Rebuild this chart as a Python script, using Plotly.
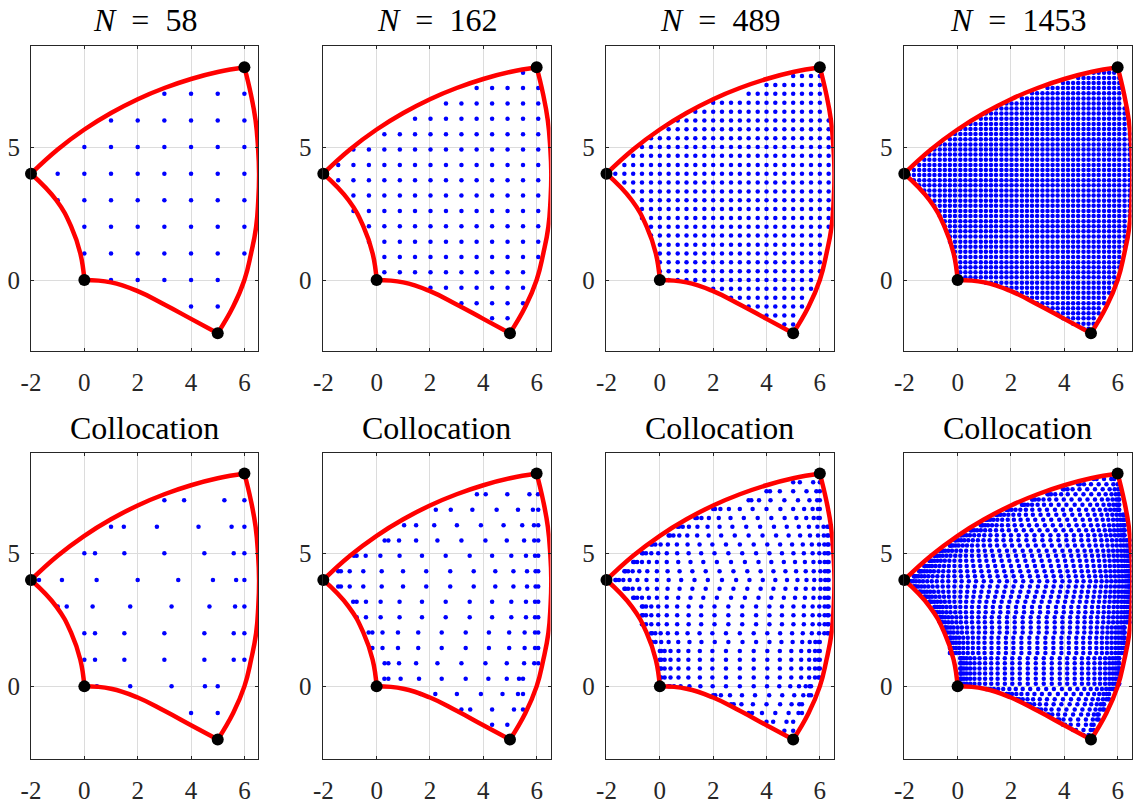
import plotly.graph_objects as go

# %% region outline and corners
corner_x = [0, 5, 6, -2]
corner_y = [0, -2, 8, 4]
edge_bottom_x = [0, 1, 2, 3, 4, 5]
edge_bottom_y = [0, -0.09, -0.42, -0.92, -1.46, -2]
edge_right_x = [5, 5.58, 6.0, 6.25, 6.44, 6.52, 6.55, 6.51, 6.42, 6.24, 6]
edge_right_y = [-2, -1, 0, 1, 2, 3, 4, 5, 6, 7, 8]
edge_top_x = [-2, -1, 0, 1, 2, 3, 4, 5, 6]
edge_top_y = [4, 4.91, 5.66, 6.28, 6.8, 7.22, 7.56, 7.82, 8]
edge_left_x = [-2, -1.05, -0.49, -0.15, 0]
edge_left_y = [4, 3, 2, 1, 0]

titles_top = ["<i>N</i>\u2002=\u200258", "<i>N</i>\u2002=\u2002162", "<i>N</i>\u2002=\u2002489", "<i>N</i>\u2002=\u20021453"]
title_bottom = "Collocation"
x_ticks = [-2, 0, 2, 4, 6]
x_tick_text = ["-2", "0", "2", "4", "6"]
y_ticks = [0, 5]
y_tick_text = ["0", "5"]

# %% top row: lattice columns, then rows with the first and last column used
grid_58 = [-1, 0, 1, 2, 3, 4, 5, 6]
rows_58 = [7, 6, 5, 4, 3, 2, 1, 0, -1]
first_58 = [3, 1, 0, -1, -1, 0, 0, 1, 4]
last_58 = [6, 6, 6, 6, 6, 6, 6, 5, 5]

grid_162 = [-1.44, -0.87, -0.29, 0.29, 0.87, 1.44, 2.02, 2.6, 3.18, 3.75, 4.33, 4.91, 5.49, 6.06]
rows_162 = [7.79, 7.22, 6.64, 6.06, 5.48, 4.91, 4.33, 3.75, 3.18, 2.6, 2.02, 1.44, 0.87, 0.29, -0.29, -0.87, -1.44]
first_162 = [5.49, 3.75, 2.6, 1.44, 0.29, -0.87, -1.44, -1.44, -0.87, -0.87, -0.29, -0.29, 0.29, 0.29, 2.02, 3.18, 4.33]
last_162 = [5.49, 6.06, 6.06, 6.06, 6.06, 6.06, 6.06, 6.06, 6.06, 6.06, 6.06, 6.06, 6.06, 5.49, 5.49, 5.49, 4.91]

grid_489 = [-1.67, -1.33, -1, -0.67, -0.33, 0, 0.33, 0.67, 1, 1.33, 1.67, 2, 2.33, 2.67, 3, 3.33, 3.67, 4, 4.33, 4.67, 5, 5.33, 5.67, 6, 6.33]
rows_489 = [7.67, 7.33, 7, 6.67, 6.33, 6, 5.67, 5.33, 5, 4.67, 4.33, 4, 3.67, 3.33, 3, 2.67, 2.33, 2, 1.67, 1.33, 1, 0.67, 0.33, 0, -0.33, -0.67, -1, -1.33, -1.67]
first_489 = [5, 4, 3.33, 2, 1.33, 0.67, 0.33, -0.33, -0.67, -1, -1.33, -1.67, -1.33, -1, -0.67, -0.67, -0.67, -0.33, -0.33, 0, 0, 0, 0, 0.33, 2, 2.67, 3.33, 4, 4.67]
last_489 = [6, 6, 6, 6, 6, 6.33, 6.33, 6.33, 6.33, 6.33, 6.33, 6.33, 6.33, 6.33, 6.33, 6.33, 6.33, 6.33, 6, 6, 6, 6, 6, 5.67, 5.67, 5.33, 5.33, 5, 5]

grid_1453 = [-1.83, -1.64, -1.44, -1.25, -1.06, -0.87, -0.67, -0.48, -0.29, -0.1, 0.1, 0.29, 0.48, 0.67, 0.87, 1.06, 1.25, 1.44, 1.64, 1.83, 2.02, 2.21, 2.41, 2.6, 2.79, 2.98, 3.18, 3.37, 3.56, 3.75, 3.95, 4.14, 4.33, 4.52, 4.72, 4.91, 5.1, 5.29, 5.49, 5.68, 5.87, 6.06, 6.26, 6.45]
rows_1453 = [-1.83, -1.64, -1.44, -1.25, -1.06, -0.87, -0.67, -0.48, -0.29, -0.1, 0.1, 0.29, 0.48, 0.67, 0.87, 1.06, 1.25, 1.44, 1.64, 1.83, 2.02, 2.21, 2.41, 2.6, 2.79, 2.98, 3.18, 3.37, 3.56, 3.75, 3.95, 4.14, 4.33, 4.52, 4.72, 4.91, 5.1, 5.29, 5.49, 5.68, 5.87, 6.06, 6.26, 6.45, 6.64, 6.83, 7.02, 7.22, 7.41, 7.6, 7.79]
first_1453 = [4.72, 4.33, 3.95, 3.75, 3.37, 2.98, 2.6, 2.21, 1.83, 1.06, 0.1, 0.1, 0.1, 0.1, -0.1, -0.1, -0.1, -0.29, -0.29, -0.29, -0.48, -0.48, -0.67, -0.67, -0.87, -0.87, -1.06, -1.25, -1.44, -1.64, -1.83, -1.64, -1.44, -1.25, -1.06, -0.87, -0.67, -0.29, -0.1, 0.1, 0.48, 0.87, 1.06, 1.44, 1.83, 2.41, 2.79, 3.37, 3.95, 4.52, 5.1]
last_1453 = [5.1, 5.1, 5.1, 5.29, 5.29, 5.49, 5.49, 5.68, 5.68, 5.87, 5.87, 5.87, 6.06, 6.06, 6.06, 6.06, 6.26, 6.26, 6.26, 6.26, 6.26, 6.26, 6.45, 6.45, 6.45, 6.45, 6.45, 6.45, 6.45, 6.45, 6.45, 6.45, 6.45, 6.45, 6.45, 6.45, 6.45, 6.45, 6.45, 6.26, 6.26, 6.26, 6.26, 6.26, 6.06, 6.06, 6.06, 6.06, 6.06, 6.06, 5.87]

# %% bottom row: rows that share the same x positions are kept together
coll_y_58 = [[7], [6], [5, 2, 1], [4], [3], [0], [-1]]
coll_x_58 = [
    [3.0, 3.74, 5.25, 6],
    [1, 1.48, 2.72, 4.28, 5.52, 6],
    [0, 0.4, 1.5, 3, 4.5, 5.6, 6],
    [-1.7, -0.84, 0.46, 2, 3.52, 4.82, 5.69, 6],
    [-1, -0.66, 0.31, 1.72, 3.27, 4.69, 5.65, 6],
    [0.47, 1.72, 3.27, 4.52, 5],
    [4, 5],
]

coll_y_162 = [[7.22], [6.64], [6.06], [5.48, 0.87], [4.91], [4.33, 3.75], [3.18], [2.6], [2.02], [1.44], [0.29], [-0.29], [-0.87], [-1.44]]
coll_x_162 = [
    [3.76, 4.09, 4.9, 5.73, 6.05],
    [2.22, 2.78, 3.59, 4.5, 5.3, 5.86, 6.06],
    [1.03, 1.48, 2.16, 3.01, 3.91, 4.76, 5.46, 5.9, 6.06],
    [0.3, 0.44, 0.84, 1.48, 2.28, 3.18, 4.08, 4.88, 5.53, 5.91, 6.06],
    [-0.85, -0.75, -0.41, 0.14, 0.86, 1.7, 2.59, 3.49, 4.33, 5.05, 5.6, 5.94, 6.06],
    [-1.44, -1.34, -1.01, -0.5, 0.19, 0.99, 1.86, 2.76, 3.64, 4.45, 5.13, 5.64, 5.96, 6.06],
    [-0.88, -0.75, -0.4, 0.15, 0.86, 1.7, 2.59, 3.49, 4.33, 5.05, 5.6, 5.94, 6.06],
    [-0.75, -0.4, 0.15, 0.86, 1.7, 2.59, 3.49, 4.33, 5.05, 5.6, 5.94, 6.06],
    [-0.3, -0.16, 0.22, 0.8, 1.56, 2.44, 3.34, 4.21, 4.97, 5.55, 5.94, 6.06],
    [-0.16, 0.22, 0.8, 1.56, 2.44, 3.34, 4.21, 4.97, 5.55, 5.94, 6.06],
    [0.29, 0.44, 0.9, 1.59, 2.44, 3.34, 4.19, 4.88, 5.34, 5.49],
    [1.65, 2.2, 3.01, 3.91, 4.72, 5.3, 5.49],
    [3.18, 3.51, 4.33, 5.15, 5.49],
    [4.33, 4.9],
]

coll_y_489 = [[7.67], [7.33], [7], [6.67], [6.33], [6], [5.67], [5.33, 2], [5, 3, 2.67, 2.33], [4.67, 3.33], [4.33, 3.67], [4], [1.67], [1.33, 1, 0.67, 0.33], [0], [-0.33], [-0.67], [-1], [-1.33], [-1.67]]
coll_x_489 = [
    [5, 5.25, 5.75, 6],
    [4, 4.13, 4.5, 5, 5.5, 5.87, 6],
    [3.33, 3.43, 3.72, 4.15, 4.67, 5.18, 5.61, 5.9, 6],
    [2, 2.07, 2.27, 2.59, 3, 3.48, 4, 4.52, 5, 5.41, 5.73, 5.93, 6],
    [1.33, 1.39, 1.56, 1.84, 2.21, 2.65, 3.15, 3.67, 4.18, 4.68, 5.12, 5.49, 5.77, 5.94, 6],
    [0.67, 0.72, 0.86, 1.09, 1.41, 1.79, 2.24, 2.72, 3.24, 3.76, 4.28, 4.76, 5.21, 5.59, 5.91, 6.14, 6.28, 6.33],
    [0.33, 0.38, 0.51, 0.73, 1.03, 1.4, 1.83, 2.3, 2.81, 3.33, 3.85, 4.36, 4.83, 5.26, 5.63, 5.93, 6.15, 6.28, 6.33],
    [-0.33, -0.29, -0.17, 0.03, 0.3, 0.64, 1.04, 1.49, 1.97, 2.48, 3, 3.52, 4.03, 4.51, 4.96, 5.36, 5.7, 5.97, 6.17, 6.29, 6.33],
    [-0.67, -0.63, -0.52, -0.32, -0.06, 0.26, 0.65, 1.08, 1.55, 2.05, 2.57, 3.09, 3.61, 4.11, 4.58, 5.01, 5.4, 5.73, 5.98, 6.18, 6.29, 6.33],
    [-1, -0.96, -0.85, -0.67, -0.41, -0.11, 0.26, 0.69, 1.15, 1.63, 2.14, 2.67, 3.19, 3.7, 4.18, 4.65, 5.07, 5.44, 5.76, 6.0, 6.18, 6.29, 6.33],
    [-1.33, -1.29, -1.19, -1.02, -0.77, -0.47, -0.11, 0.29, 0.74, 1.22, 1.72, 2.24, 2.76, 3.28, 3.78, 4.26, 4.71, 5.11, 5.47, 5.77, 6.02, 6.19, 6.29, 6.33],
    [-1.67, -1.64, -1.53, -1.37, -1.13, -0.84, -0.5, -0.11, 0.33, 0.8, 1.3, 1.8, 2.33, 2.86, 3.36, 3.86, 4.33, 4.77, 5.16, 5.5, 5.79, 6.03, 6.2, 6.3, 6.33],
    [-0.33, -0.29, -0.16, 0.05, 0.33, 0.69, 1.11, 1.56, 2.06, 2.57, 3.1, 3.61, 4.11, 4.56, 4.98, 5.34, 5.62, 5.83, 5.96, 6],
    [0, 0.05, 0.18, 0.4, 0.7, 1.07, 1.5, 1.97, 2.48, 3, 3.52, 4.03, 4.5, 4.93, 5.3, 5.6, 5.82, 5.95, 6],
    [0.33, 0.38, 0.53, 0.78, 1.11, 1.52, 1.98, 2.48, 3, 3.52, 4.02, 4.48, 4.89, 5.22, 5.47, 5.62, 5.67],
    [2, 2.08, 2.29, 2.63, 3.08, 3.57, 4.1, 4.59, 5.04, 5.38, 5.59, 5.67],
    [2.67, 2.77, 3.06, 3.49, 4, 4.51, 4.94, 5.23, 5.33],
    [3.33, 3.46, 3.83, 4.33, 4.83, 5.2, 5.33],
    [4, 4.25, 4.75, 5],
    [4.67, 5],
]

coll_y_1453 = [[7.79], [7.6], [7.41], [7.22], [7.02], [6.83], [6.64], [6.45], [6.26], [6.06], [5.87], [5.68], [5.49], [5.29], [5.1, 2.6, 2.41], [4.91, 2.98, 2.79], [4.72, 3.18], [4.52, 3.37], [4.33, 3.56], [4.14, 3.75], [3.95], [2.21, 2.02], [1.83, 1.64, 1.44, 1.25], [1.06, 0.87, 0.67, 0.48, 0.29, 0.1], [-0.1], [-0.29], [-0.48], [-0.67], [-0.87], [-1.06], [-1.25], [-1.44], [-1.64], [-1.83]]
coll_x_1453 = [
    [5.1, 5.21, 5.49, 5.76, 5.87],
    [4.52, 4.58, 4.74, 5, 5.29, 5.58, 5.84, 6, 6.06],
    [3.95, 3.99, 4.12, 4.31, 4.57, 4.86, 5.15, 5.44, 5.7, 5.89, 6.02, 6.06],
    [3.37, 3.41, 3.5, 3.66, 3.88, 4.13, 4.42, 4.72, 5.01, 5.3, 5.55, 5.77, 5.93, 6.03, 6.06],
    [2.79, 2.82, 2.9, 3.04, 3.22, 3.44, 3.7, 3.98, 4.27, 4.58, 4.87, 5.15, 5.41, 5.63, 5.81, 5.95, 6.03, 6.06],
    [2.41, 2.44, 2.51, 2.63, 2.79, 3, 3.24, 3.5, 3.79, 4.08, 4.39, 4.68, 4.97, 5.23, 5.47, 5.68, 5.84, 5.96, 6.03, 6.06],
    [1.83, 1.85, 1.91, 2.02, 2.17, 2.35, 2.56, 2.8, 3.07, 3.35, 3.65, 3.95, 4.25, 4.55, 4.82, 5.09, 5.33, 5.55, 5.72, 5.87, 5.98, 6.04, 6.06],
    [1.44, 1.46, 1.51, 1.61, 1.74, 1.9, 2.09, 2.31, 2.56, 2.82, 3.11, 3.4, 3.7, 4, 4.3, 4.59, 4.88, 5.14, 5.39, 5.61, 5.8, 5.96, 6.09, 6.19, 6.24, 6.26],
    [1.06, 1.08, 1.13, 1.22, 1.34, 1.49, 1.67, 1.88, 2.11, 2.36, 2.63, 2.91, 3.21, 3.51, 3.81, 4.11, 4.41, 4.69, 4.96, 5.21, 5.44, 5.65, 5.83, 5.98, 6.1, 6.19, 6.24, 6.26],
    [0.87, 0.89, 0.94, 1.03, 1.14, 1.29, 1.46, 1.66, 1.89, 2.14, 2.4, 2.68, 2.97, 3.27, 3.57, 3.87, 4.17, 4.46, 4.73, 5.0, 5.25, 5.48, 5.68, 5.85, 6.0, 6.11, 6.2, 6.25, 6.26],
    [0.48, 0.49, 0.54, 0.62, 0.73, 0.87, 1.03, 1.22, 1.44, 1.67, 1.92, 2.19, 2.48, 2.77, 3.07, 3.37, 3.67, 3.97, 4.26, 4.55, 4.82, 5.07, 5.3, 5.52, 5.71, 5.87, 6.01, 6.12, 6.2, 6.25, 6.26],
    [0.1, 0.12, 0.16, 0.23, 0.33, 0.46, 0.62, 0.8, 1, 1.23, 1.47, 1.73, 2, 2.29, 2.58, 2.88, 3.18, 3.48, 3.78, 4.07, 4.36, 4.63, 4.89, 5.13, 5.36, 5.56, 5.74, 5.9, 6.03, 6.13, 6.2, 6.24, 6.26],
    [-0.1, -0.09, -0.05, 0.03, 0.13, 0.25, 0.4, 0.57, 0.76, 0.97, 1.2, 1.46, 1.72, 2, 2.28, 2.58, 2.88, 3.18, 3.48, 3.78, 4.08, 4.36, 4.64, 4.9, 5.15, 5.39, 5.6, 5.79, 5.96, 6.11, 6.23, 6.33, 6.4, 6.44, 6.45],
    [-0.29, -0.28, -0.24, -0.17, -0.07, 0.04, 0.19, 0.35, 0.54, 0.75, 0.98, 1.22, 1.48, 1.76, 2.04, 2.33, 2.63, 2.93, 3.23, 3.53, 3.83, 4.12, 4.4, 4.68, 4.94, 5.18, 5.41, 5.62, 5.81, 5.97, 6.12, 6.23, 6.33, 6.4, 6.44, 6.45],
    [-0.67, -0.66, -0.62, -0.56, -0.47, -0.35, -0.21, -0.05, 0.12, 0.32, 0.54, 0.78, 1.02, 1.28, 1.56, 1.85, 2.14, 2.44, 2.74, 3.04, 3.34, 3.64, 3.93, 4.22, 4.5, 4.76, 5.0, 5.24, 5.46, 5.66, 5.83, 5.99, 6.13, 6.25, 6.34, 6.4, 6.44, 6.45],
    [-0.87, -0.86, -0.82, -0.76, -0.67, -0.56, -0.42, -0.27, -0.09, 0.1, 0.31, 0.54, 0.79, 1.05, 1.32, 1.6, 1.89, 2.19, 2.49, 2.79, 3.09, 3.39, 3.69, 3.98, 4.26, 4.53, 4.79, 5.04, 5.27, 5.48, 5.67, 5.85, 6.0, 6.14, 6.25, 6.34, 6.4, 6.44, 6.45],
    [-1.06, -1.05, -1.02, -0.96, -0.87, -0.76, -0.63, -0.48, -0.31, -0.12, 0.1, 0.32, 0.56, 0.82, 1.08, 1.36, 1.65, 1.94, 2.24, 2.54, 2.85, 3.15, 3.45, 3.75, 4.03, 4.31, 4.58, 4.83, 5.07, 5.3, 5.51, 5.7, 5.87, 6.01, 6.15, 6.26, 6.35, 6.4, 6.44, 6.45],
    [-1.25, -1.24, -1.2, -1.14, -1.06, -0.96, -0.83, -0.68, -0.51, -0.33, -0.12, 0.1, 0.34, 0.59, 0.85, 1.13, 1.41, 1.7, 2, 2.3, 2.6, 2.9, 3.2, 3.5, 3.79, 4.07, 4.35, 4.61, 4.86, 5.1, 5.32, 5.53, 5.71, 5.88, 6.03, 6.16, 6.26, 6.34, 6.4, 6.44, 6.45],
    [-1.44, -1.43, -1.39, -1.34, -1.25, -1.15, -1.03, -0.89, -0.72, -0.54, -0.34, -0.12, 0.11, 0.36, 0.62, 0.89, 1.17, 1.46, 1.75, 2.05, 2.35, 2.66, 2.96, 3.26, 3.55, 3.84, 4.12, 4.39, 4.65, 4.89, 5.13, 5.35, 5.55, 5.73, 5.89, 6.03, 6.16, 6.27, 6.34, 6.4, 6.43, 6.45],
    [-1.64, -1.63, -1.6, -1.54, -1.47, -1.36, -1.24, -1.1, -0.94, -0.76, -0.56, -0.35, -0.12, 0.13, 0.38, 0.65, 0.93, 1.21, 1.5, 1.8, 2.1, 2.41, 2.71, 3.01, 3.31, 3.6, 3.88, 4.16, 4.43, 4.68, 4.93, 5.16, 5.38, 5.57, 5.74, 5.9, 6.05, 6.17, 6.28, 6.35, 6.41, 6.43, 6.45],
    [-1.83, -1.82, -1.78, -1.73, -1.66, -1.56, -1.44, -1.3, -1.14, -0.97, -0.78, -0.57, -0.35, -0.1, 0.15, 0.42, 0.69, 0.98, 1.26, 1.56, 1.85, 2.16, 2.46, 2.77, 3.06, 3.36, 3.64, 3.93, 4.2, 4.47, 4.72, 4.97, 5.19, 5.4, 5.59, 5.76, 5.92, 6.06, 6.18, 6.28, 6.35, 6.4, 6.44, 6.45],
    [-0.48, -0.47, -0.43, -0.36, -0.26, -0.15, 0, 0.16, 0.35, 0.56, 0.79, 1.03, 1.29, 1.57, 1.85, 2.14, 2.44, 2.74, 3.04, 3.34, 3.64, 3.93, 4.21, 4.49, 4.75, 4.99, 5.22, 5.43, 5.62, 5.78, 5.93, 6.04, 6.14, 6.21, 6.25, 6.26],
    [-0.29, -0.28, -0.24, -0.16, -0.06, 0.06, 0.21, 0.38, 0.57, 0.78, 1.01, 1.27, 1.53, 1.81, 2.09, 2.39, 2.69, 2.99, 3.29, 3.59, 3.89, 4.17, 4.45, 4.71, 4.96, 5.2, 5.41, 5.6, 5.77, 5.92, 6.04, 6.14, 6.21, 6.25, 6.26],
    [0.1, 0.11, 0.16, 0.24, 0.34, 0.47, 0.63, 0.82, 1.03, 1.26, 1.5, 1.77, 2.05, 2.33, 2.63, 2.93, 3.23, 3.53, 3.83, 4.11, 4.39, 4.66, 4.9, 5.13, 5.34, 5.53, 5.69, 5.82, 5.92, 6.0, 6.05, 6.06],
    [1.06, 1.08, 1.14, 1.23, 1.36, 1.52, 1.71, 1.94, 2.18, 2.44, 2.72, 3.02, 3.32, 3.61, 3.91, 4.21, 4.49, 4.75, 4.99, 5.22, 5.41, 5.57, 5.7, 5.79, 5.85, 5.87],
    [1.83, 1.85, 1.92, 2.04, 2.2, 2.39, 2.62, 2.88, 3.16, 3.45, 3.76, 4.06, 4.35, 4.63, 4.89, 5.12, 5.31, 5.47, 5.59, 5.66, 5.68],
    [2.21, 2.24, 2.31, 2.44, 2.62, 2.83, 3.08, 3.35, 3.64, 3.95, 4.25, 4.54, 4.81, 5.06, 5.27, 5.45, 5.58, 5.65, 5.68],
    [2.6, 2.63, 2.72, 2.87, 3.08, 3.32, 3.6, 3.89, 4.2, 4.49, 4.77, 5.01, 5.22, 5.37, 5.46, 5.49],
    [2.98, 3.02, 3.13, 3.3, 3.52, 3.79, 4.08, 4.39, 4.68, 4.95, 5.17, 5.34, 5.45, 5.49],
    [3.37, 3.42, 3.55, 3.77, 4.03, 4.33, 4.63, 4.89, 5.11, 5.24, 5.29],
    [3.75, 3.81, 3.97, 4.23, 4.52, 4.81, 5.07, 5.23, 5.29],
    [3.95, 4.03, 4.24, 4.52, 4.81, 5.02, 5.1],
    [4.33, 4.44, 4.72, 4.99, 5.1],
    [4.72, 4.91, 5.1],
]

top_panels = [
    (grid_58, rows_58, first_58, last_58),
    (grid_162, rows_162, first_162, last_162),
    (grid_489, rows_489, first_489, last_489),
    (grid_1453, rows_1453, first_1453, last_1453),
]
bottom_panels = [
    (coll_y_58, coll_x_58),
    (coll_y_162, coll_x_162),
    (coll_y_489, coll_x_489),
    (coll_y_1453, coll_x_1453),
]

# the page has an 8px body margin, so pixel positions below are page position minus 8
W, H = 1138, 799
lefts = [23, 314.5, 597.7, 895.5]
widths = [227, 228, 228, 228]
x_ranges = [[-2, 6.51], [-2.03, 6.52], [-2.03, 6.52], [-2.03, 6.52]]
tops = [38, 445.3]
bottoms = [343.3, 751]
y_ranges = [[-2.68, 8.8], [-2.73, 8.76]]

ink = "#262626"
serif = "Liberation Serif"

fig = go.Figure()


def add_panel(n, xs, ys):
    ax = dict(xaxis=f"x{n}", yaxis=f"y{n}")
    fig.add_trace(go.Scatter(x=xs, y=ys, mode="markers", marker=dict(color="#0000ff", size=4.5), **ax))
    for ex, ey in [(edge_bottom_x, edge_bottom_y), (edge_right_x, edge_right_y),
                   (edge_top_x, edge_top_y), (edge_left_x, edge_left_y)]:
        fig.add_trace(go.Scatter(x=ex, y=ey, mode="lines", cliponaxis=False,
                                 line=dict(color="#ff0000", width=4.5, shape="spline", smoothing=1.3), **ax))
    fig.add_trace(go.Scatter(x=corner_x, y=corner_y, mode="markers", cliponaxis=False,
                             marker=dict(color="black", size=12), **ax))


annotations = []
for row in range(2):
    for col in range(4):
        n = row * 4 + col + 1
        if row == 0:
            grid, rows, first, last = top_panels[col]
            xs, ys = [], []
            for y, a, b in zip(rows, first, last):
                for x in grid:
                    if a <= x <= b:
                        xs.append(x)
                        ys.append(y)
            title = titles_top[col]
        else:
            coll_y, coll_x = bottom_panels[col]
            xs, ys = [], []
            for group_y, group_x in zip(coll_y, coll_x):
                for y in group_y:
                    xs += group_x
                    ys += [y] * len(group_x)
            title = title_bottom
        add_panel(n, xs, ys)

        common = dict(showgrid=True, gridcolor="#dcdcdc", gridwidth=1, zeroline=False,
                      showline=True, linecolor=ink, linewidth=1, mirror="ticks",
                      ticks="inside", ticklen=3, tickcolor=ink, automargin=False,
                      tickfont=dict(family=serif, size=25, color=ink))
        fig.layout[f"xaxis{n}"] = dict(
            domain=[lefts[col] / W, (lefts[col] + widths[col]) / W],
            range=x_ranges[col], anchor=f"y{n}", tickmode="array",
            tickvals=x_ticks, ticktext=x_tick_text, ticklabelstandoff=9, **common)
        fig.layout[f"yaxis{n}"] = dict(
            domain=[1 - bottoms[row] / H, 1 - tops[row] / H],
            range=y_ranges[row], anchor=f"x{n}", tickmode="array",
            tickvals=y_ticks, ticktext=y_tick_text, ticklabelstandoff=5, **common)
        annotations.append(dict(
            text=title, showarrow=False, xref="paper", yref="paper",
            x=(lefts[col] + widths[col] / 2) / W, y=1 - (tops[row] - 8.5) / H,
            xanchor="center", yanchor="bottom", height=30,
            font=dict(family=serif, size=32, color="black")))

fig.update_layout(width=W, height=H, margin=dict(l=0, r=0, t=0, b=0),
                  paper_bgcolor="white", plot_bgcolor="white", showlegend=False,
                  annotations=annotations)

fig.write_html("out.html")
